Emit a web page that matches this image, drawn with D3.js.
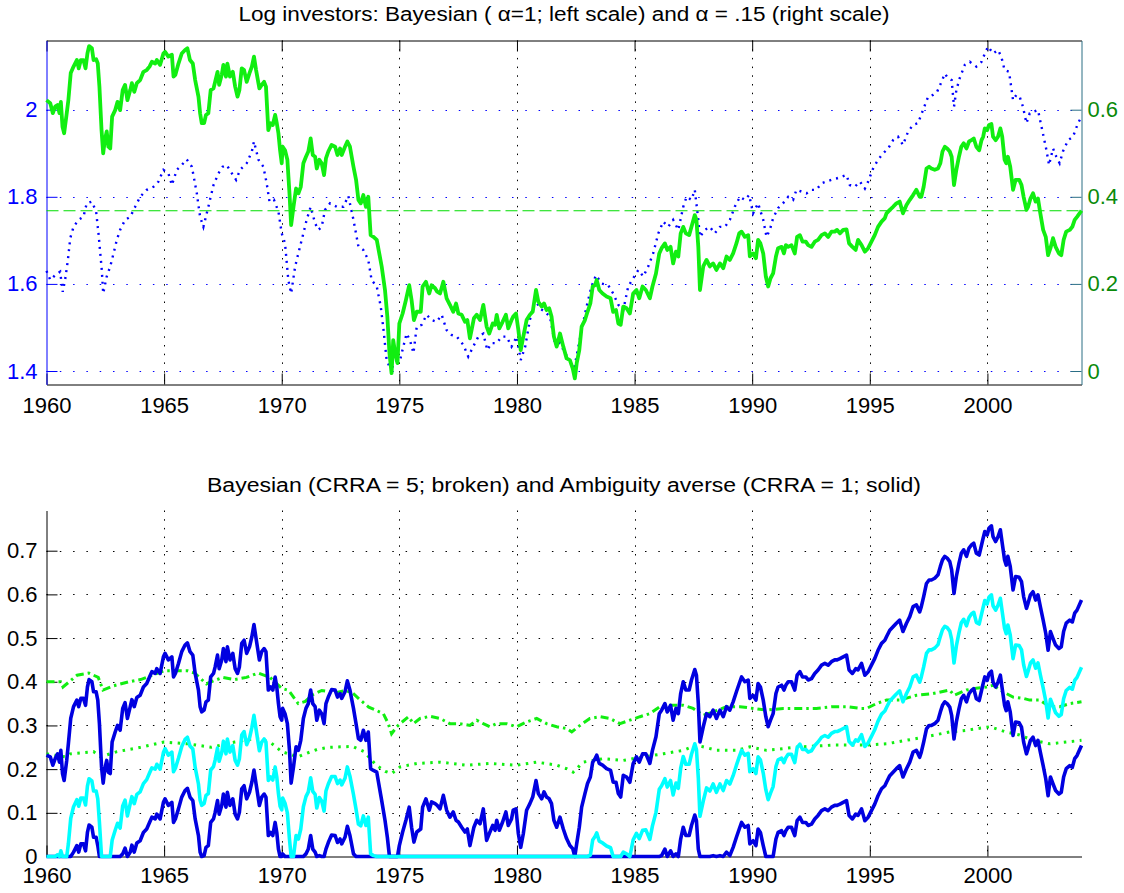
<!DOCTYPE html>
<html>
<head>
<meta charset="utf-8">
<script src="https://d3js.org/d3.v7.min.js"></script>
<style>
body { margin: 0; background: #fff; }
text { font-family: "Liberation Sans", Arial, Helvetica, sans-serif; }
</style>
</head>
<body>
<div id="chart-area"></div>
<script>

// ---- tick values
var yearTicks = [1960, 1965, 1970, 1975, 1980, 1985, 1990, 1995, 2000];
var leftTicks = [1.4, 1.6, 1.8, 2];
var rightTicks = [0, 0.2, 0.4, 0.6];
var shareTicks = [0, 0.1, 0.2, 0.3, 0.4, 0.5, 0.6, 0.7];

// ---- sample dates shared by the four solid series
var solidYears = [
 1960.00,1960.16,1960.27,1960.37,1960.47,1960.55,1960.61,1960.68,1960.75,1960.86,
 1960.93,1961.03,1961.15,1961.29,1961.37,1961.46,1961.57,1961.66,1961.74,1961.81,
 1961.93,1962.00,1962.11,1962.18,1962.25,1962.34,1962.41,1962.48,1962.56,1962.63,
 1962.71,1962.79,1962.92,1963.02,1963.13,1963.24,1963.34,1963.44,1963.56,1963.63,
 1963.73,1963.84,1963.98,1964.12,1964.26,1964.38,1964.48,1964.62,1964.69,1964.83,
 1964.97,1965.04,1965.18,1965.33,1965.40,1965.48,1965.61,1965.75,1965.89,1965.99,
 1966.10,1966.22,1966.32,1966.46,1966.53,1966.60,1966.70,1966.78,1966.88,1966.98,
 1967.10,1967.17,1967.27,1967.34,1967.45,1967.52,1967.63,1967.69,1967.80,1967.92,
 1968.02,1968.12,1968.20,1968.30,1968.40,1968.51,1968.63,1968.73,1968.82,1968.91,
 1969.05,1969.15,1969.25,1969.33,1969.43,1969.53,1969.62,1969.72,1969.79,1969.86,
 1969.93,1970.00,1970.04,1970.14,1970.24,1970.33,1970.40,1970.50,1970.61,1970.71,
 1970.81,1970.92,1971.03,1971.13,1971.23,1971.32,1971.42,1971.49,1971.60,1971.70,
 1971.80,1971.88,1971.98,1972.12,1972.27,1972.37,1972.48,1972.55,1972.69,1972.79,
 1972.90,1973.05,1973.16,1973.26,1973.36,1973.47,1973.58,1973.68,1973.78,1973.90,
 1974.04,
 1974.25,1974.39,1974.49,1974.58,1974.67,1974.74,1974.82,1974.92,1975.00,1975.14,
 1975.28,1975.42,1975.52,1975.62,1975.74,1975.91,1975.99,1976.13,1976.27,1976.37,
 1976.52,1976.61,1976.73,1976.87,1977.01,1977.15,1977.29,1977.41,1977.51,1977.65,
 1977.79,1977.89,1978.00,1978.17,1978.29,1978.43,1978.57,1978.71,1978.82,1978.97,
 1979.07,1979.14,1979.25,1979.39,1979.53,1979.63,1979.77,1979.84,1979.96,1980.06,
 1980.16,1980.27,1980.41,1980.55,1980.67,1980.81,1980.91,1981.05,1981.15,1981.26,
 1981.37,1981.47,1981.57,1981.69,1981.83,1981.97,1982.11,1982.25,1982.37,1982.46,
 1982.54,1982.65,1982.75,1982.89,1983.00,1983.12,1983.22,1983.32,1983.39,1983.50,
 1983.64,1983.81,1983.98,1984.09,1984.21,1984.31,1984.41,1984.52,1984.66,1984.80,
 1984.94,1985.08,1985.20,1985.34,1985.48,1985.65,1985.76,1985.91,1986.05,1986.15,
 1986.29,1986.39,1986.53,1986.64,1986.76,1986.86,1986.96,1987.07,1987.18,1987.32,
 1987.42,1987.56,1987.63,1987.71,
 1987.78,1987.92,1988.06,1988.20,1988.34,1988.48,1988.63,1988.77,1988.91,1989.05,
 1989.19,1989.33,1989.45,1989.55,1989.69,1989.83,1989.90,1990.04,1990.16,1990.25,
 1990.35,1990.47,1990.58,1990.68,1990.78,1990.89,1991.01,1991.10,1991.25,1991.35,
 1991.43,1991.53,1991.67,1991.81,1991.91,1992.03,1992.14,1992.28,1992.38,1992.52,
 1992.66,1992.80,1992.95,1993.09,1993.23,1993.37,1993.51,1993.61,1993.73,1993.87,
 1994.01,1994.12,1994.26,1994.40,1994.50,1994.65,1994.79,1994.93,1995.07,1995.21,
 1995.35,1995.50,1995.64,1995.71,1995.85,1995.99,1996.13,1996.27,1996.41,1996.56,
 1996.70,1996.84,1996.98,1997.12,1997.19,1997.29,1997.41,1997.52,1997.62,1997.76,
 1997.90,1998.00,1998.09,1998.19,1998.29,1998.40,1998.48,1998.58,1998.68,1998.79,
 1998.89,1998.99,1999.11,1999.22,1999.32,1999.42,1999.53,1999.65,1999.75,1999.82,
 1999.89,1999.99,2000.07,2000.17,2000.24,2000.35,2000.45,2000.55,2000.63,2000.73,
 2000.80,2000.87,2000.97,2001.09,2001.20,2001.35,2001.45,2001.54,2001.66,2001.73,
 2001.83,2001.94,2002.05,2002.15,2002.25,2002.37,2002.48,2002.58,2002.68,2002.79,
 2002.90,2003.04,2003.14,2003.24,2003.35,2003.50,2003.61,2003.71,2003.81,2004.00
];

// top panel, alpha = .15 (right scale)
var logAlpha15 = [
 0.622,0.615,0.592,0.607,0.611,0.592,0.618,0.561,0.546,0.592,
 0.622,0.684,0.699,0.714,0.695,0.714,0.714,0.695,0.729,0.746,
 0.741,0.714,0.716,0.706,0.653,0.553,0.500,0.530,0.550,0.515,
 0.511,0.584,0.599,0.618,0.599,0.645,0.657,0.622,0.645,0.661,
 0.641,0.661,0.668,0.687,0.691,0.699,0.710,0.706,0.714,0.703,
 0.729,0.733,0.722,0.726,0.676,0.680,0.706,0.729,0.737,0.741,
 0.714,0.706,0.668,0.630,0.592,0.569,0.569,0.588,0.592,0.645,
 0.649,0.664,0.687,0.657,0.680,0.703,0.676,0.706,0.676,0.687,
 0.653,0.630,0.645,0.695,0.691,0.664,0.684,0.699,0.722,0.691,
 0.649,0.657,0.664,0.653,0.553,0.569,0.565,0.588,0.569,0.546,
 0.507,0.477,0.515,0.507,0.485,0.408,0.335,0.377,0.419,0.408,
 0.423,0.477,0.492,0.504,0.534,0.496,0.492,0.465,0.485,0.477,
 0.450,0.488,0.504,0.519,0.515,0.496,0.511,0.496,0.515,0.527,
 0.515,0.469,0.439,0.393,0.385,0.404,0.377,0.400,0.312,0.308,
 0.301,
 0.240,0.186,0.125,0.041,-0.005,0.071,0.041,0.018,0.109,0.132,
 0.163,0.197,0.163,0.117,0.136,0.136,0.194,0.205,0.178,0.197,
 0.190,0.182,0.178,0.205,0.167,0.152,0.136,0.155,0.132,0.129,
 0.113,0.117,0.075,0.121,0.129,0.117,0.152,0.102,0.086,0.109,
 0.106,0.129,0.098,0.113,0.129,0.098,0.117,0.125,0.132,0.094,
 0.048,0.079,0.117,0.129,0.136,0.186,0.159,0.148,0.155,0.140,
 0.144,0.125,0.079,0.056,0.086,0.056,0.029,0.025,0.006,-0.017,
 0.018,0.048,0.102,0.117,0.136,0.155,0.194,0.197,0.209,0.186,
 0.178,0.171,0.167,0.136,0.140,0.109,0.106,0.148,0.144,0.132,
 0.178,0.186,0.167,0.194,0.186,0.167,0.194,0.224,0.270,0.282,
 0.293,0.278,0.285,0.247,0.274,0.263,0.316,0.331,0.316,0.312,
 0.331,0.358,0.347,0.285,
 0.186,0.240,0.255,0.240,0.247,0.232,0.247,0.236,0.263,0.255,
 0.270,0.293,0.316,0.320,0.308,0.312,0.263,0.270,0.259,0.301,
 0.293,0.270,0.217,0.194,0.213,0.224,0.263,0.282,0.285,0.270,
 0.289,0.285,0.289,0.270,0.308,0.312,0.297,0.297,0.289,0.285,
 0.297,0.301,0.312,0.316,0.308,0.320,0.320,0.324,0.316,0.324,
 0.325,0.293,0.285,0.278,0.301,0.289,0.274,0.282,0.297,0.312,
 0.331,0.343,0.351,0.362,0.370,0.377,0.385,0.389,0.362,0.381,
 0.393,0.404,0.416,0.400,0.400,0.423,0.465,0.469,0.465,0.462,
 0.465,0.477,0.504,0.515,0.511,0.504,0.492,0.427,0.462,0.492,
 0.515,0.523,0.511,0.527,0.530,0.534,0.515,0.507,0.530,0.538,
 0.557,0.553,0.565,0.567,0.538,0.530,0.538,0.557,0.538,0.485,
 0.477,0.492,0.469,0.416,0.439,0.439,0.427,0.400,0.370,0.377,
 0.396,0.408,0.389,0.396,0.362,0.324,0.308,0.266,0.282,0.305,
 0.285,0.270,0.266,0.301,0.320,0.324,0.331,0.347,0.354,0.368
];

// bottom panel, ambiguity averse (CRRA = 1), three solid lines
var ambHigh = [
 0.232,0.228,0.209,0.224,0.235,0.216,0.243,0.190,0.174,0.220,
 0.258,0.316,0.343,0.358,0.343,0.362,0.362,0.346,0.388,0.405,
 0.400,0.377,0.377,0.358,0.304,0.205,0.168,0.201,0.220,0.193,
 0.190,0.262,0.285,0.300,0.289,0.339,0.352,0.316,0.343,0.359,
 0.343,0.364,0.369,0.388,0.396,0.411,0.423,0.419,0.430,0.419,
 0.457,0.465,0.450,0.457,0.411,0.419,0.442,0.469,0.484,0.489,
 0.469,0.461,0.419,0.381,0.343,0.331,0.335,0.354,0.358,0.411,
 0.419,0.434,0.461,0.430,0.450,0.476,0.446,0.480,0.450,0.465,
 0.430,0.419,0.434,0.488,0.495,0.465,0.480,0.503,0.531,0.499,
 0.450,0.469,0.476,0.469,0.381,0.388,0.381,0.411,0.388,0.350,
 0.320,0.312,0.339,0.327,0.304,0.243,0.168,0.205,0.251,0.243,
 0.266,0.316,0.339,0.350,0.381,0.350,0.343,0.312,0.335,0.327,
 0.304,0.350,0.365,0.382,0.381,0.365,0.373,0.362,0.377,0.402,
 0.381,0.339,0.304,0.270,0.266,0.289,0.266,0.285,0.201,0.197,
 0.193,
 0.128,0.083,0.044,0,0,0,0,0,0.025,0.056,
 0.083,0.113,0.067,0.033,0.056,0.063,0.113,0.132,0.106,0.125,
 0.121,0.117,0.109,0.140,0.106,0.090,0.102,0.083,0.079,0.067,
 0.056,0.063,0.025,0.067,0.083,0.075,0.109,0.037,0.052,0.071,
 0.060,0.083,0.060,0.079,0.102,0.071,0.086,0.106,0.109,0.052,
 0.021,0.052,0.106,0.121,0.136,0.174,0.144,0.132,0.148,0.136,
 0.132,0.121,0.083,0.067,0.090,0.063,0.041,0.025,0.018,0,
 0.029,0.067,0.113,0.144,0.167,0.182,0.216,0.224,0.232,0.213,
 0.209,0.201,0.197,0.170,0.170,0.144,0.136,0.186,0.182,0.170,
 0.213,0.228,0.216,0.235,0.235,0.213,0.243,0.274,0.327,0.335,
 0.350,0.331,0.346,0.312,0.339,0.327,0.373,0.400,0.381,0.381,
 0.404,0.428,0.415,0.350,
 0.262,0.297,0.327,0.320,0.335,0.316,0.335,0.320,0.343,0.335,
 0.354,0.377,0.396,0.411,0.400,0.404,0.362,0.369,0.358,0.396,
 0.388,0.358,0.320,0.297,0.312,0.327,0.373,0.388,0.392,0.381,
 0.392,0.400,0.400,0.381,0.415,0.423,0.411,0.411,0.404,0.407,
 0.419,0.427,0.438,0.442,0.438,0.446,0.450,0.450,0.453,0.457,
 0.461,0.427,0.419,0.430,0.427,0.442,0.415,0.423,0.438,0.453,
 0.472,0.488,0.495,0.503,0.518,0.526,0.534,0.541,0.515,0.534,
 0.549,0.572,0.576,0.560,0.572,0.595,0.625,0.633,0.633,0.637,
 0.645,0.664,0.679,0.687,0.683,0.675,0.656,0.602,0.641,0.671,
 0.694,0.702,0.687,0.706,0.713,0.717,0.694,0.690,0.713,0.729,
 0.744,0.736,0.752,0.757,0.732,0.721,0.732,0.748,0.717,0.679,
 0.667,0.687,0.664,0.610,0.641,0.639,0.629,0.595,0.568,0.580,
 0.599,0.606,0.587,0.599,0.572,0.541,0.511,0.472,0.515,0.499,
 0.484,0.476,0.480,0.515,0.534,0.541,0.537,0.557,0.564,0.587
];

var ambMid = [
 0,0,0,0,0.004,0,0.013,0,0,0,
 0.029,0.087,0.114,0.130,0.115,0.134,0.134,0.118,0.161,0.178,
 0.173,0.150,0.150,0.132,0.078,0,0,0,0,0,
 0,0.037,0.060,0.076,0.065,0.116,0.129,0.093,0.121,0.137,
 0.121,0.142,0.148,0.167,0.176,0.191,0.203,0.200,0.211,0.200,
 0.238,0.247,0.232,0.239,0.194,0.202,0.225,0.252,0.268,0.273,
 0.253,0.246,0.204,0.166,0.129,0.117,0.121,0.140,0.144,0.198,
 0.206,0.221,0.248,0.218,0.238,0.264,0.235,0.269,0.239,0.254,
 0.220,0.209,0.224,0.278,0.286,0.256,0.271,0.295,0.323,0.291,
 0.242,0.262,0.269,0.262,0.174,0.182,0.175,0.205,0.182,0.144,
 0.115,0.107,0.134,0.122,0.100,0.039,0,0,0.048,0.040,
 0.063,0.114,0.137,0.148,0.180,0.149,0.142,0.111,0.135,0.127,
 0.104,0.150,0.166,0.183,0.183,0.167,0.175,0.164,0.179,0.205,
 0.184,0.142,0.108,0.074,0.070,0.093,0.071,0.090,0.006,0.002,
 0,
 0,0,0,0,0,0,0,0,0,0,
 0,0,0,0,0,0,0,0,0,0,
 0,0,0,0,0,0,0,0,0,0,
 0,0,0,0,0,0,0,0,0,0,
 0,0,0,0,0,0,0,0,0,0,
 0,0,0,0,0,0,0,0,0,0,
 0,0,0,0,0,0,0,0,0,0,
 0,0,0,0,0,0.003,0.038,0.046,0.054,0.035,
 0.031,0.024,0.020,0,0,0,0,0.010,0.006,0,
 0.038,0.053,0.041,0.060,0.061,0.039,0.070,0.101,0.154,0.162,
 0.178,0.159,0.174,0.141,0.168,0.156,0.202,0.229,0.211,0.211,
 0.234,0.258,0.245,0.180,
 0.092,0.127,0.157,0.150,0.166,0.147,0.166,0.151,0.174,0.166,
 0.185,0.209,0.228,0.243,0.232,0.236,0.194,0.201,0.190,0.228,
 0.221,0.191,0.153,0.130,0.145,0.160,0.206,0.221,0.225,0.215,
 0.226,0.234,0.234,0.215,0.249,0.257,0.245,0.245,0.239,0.242,
 0.254,0.262,0.273,0.277,0.273,0.282,0.286,0.286,0.289,0.293,
 0.297,0.263,0.255,0.267,0.264,0.279,0.252,0.260,0.275,0.290,
 0.310,0.326,0.333,0.341,0.356,0.364,0.372,0.379,0.354,0.373,
 0.388,0.411,0.415,0.399,0.411,0.434,0.465,0.473,0.473,0.477,
 0.485,0.504,0.519,0.527,0.524,0.516,0.497,0.443,0.482,0.512,
 0.535,0.543,0.528,0.547,0.555,0.559,0.536,0.532,0.555,0.571,
 0.586,0.578,0.594,0.599,0.574,0.564,0.575,0.591,0.560,0.522,
 0.510,0.530,0.507,0.453,0.484,0.483,0.473,0.439,0.412,0.424,
 0.443,0.450,0.431,0.443,0.416,0.386,0.356,0.317,0.360,0.344,
 0.329,0.321,0.325,0.361,0.380,0.387,0.383,0.403,0.410,0.433
];

var ambLow = [
 0,0,0,0,0,0,0,0,0,0,
 0,0,0.010,0.025,0.010,0.029,0.029,0.013,0.055,0.072,
 0.067,0.044,0.044,0.025,0,0,0,0,0,0,
 0,0,0,0,0,0.006,0.019,0,0.010,0.026,
 0.010,0.031,0.036,0.055,0.063,0.078,0.090,0.086,0.097,0.086,
 0.124,0.132,0.117,0.124,0.078,0.086,0.109,0.136,0.151,0.156,
 0.136,0.128,0.086,0.048,0.010,0,0.002,0.021,0.025,0.078,
 0.086,0.101,0.128,0.097,0.117,0.143,0.113,0.147,0.117,0.132,
 0.097,0.086,0.101,0.155,0.162,0.132,0.147,0.170,0.198,0.166,
 0.117,0.136,0.143,0.136,0.048,0.055,0.048,0.078,0.055,0.017,
 0,0,0.006,0,0,0,0,0,0,0,
 0,0,0.006,0.017,0.048,0.017,0.010,0,0.002,0,
 0,0.017,0.032,0.049,0.048,0.032,0.040,0.029,0.044,0.069,
 0.048,0.006,0,0,0,0,0,0,0,0,
 0,
 0,0,0,0,0,0,0,0,0,0,
 0,0,0,0,0,0,0,0,0,0,
 0,0,0,0,0,0,0,0,0,0,
 0,0,0,0,0,0,0,0,0,0,
 0,0,0,0,0,0,0,0,0,0,
 0,0,0,0,0,0,0,0,0,0,
 0,0,0,0,0,0,0,0,0,0,
 0,0,0,0,0,0,0,0,0,0,
 0,0,0,0,0,0,0,0,0,0,
 0,0,0,0,0,0,0,0,0,0.002,
 0.017,0,0.013,0,0.006,0,0.040,0.067,0.048,0.048,
 0.071,0.095,0.082,0.017,
 0,0,0,0,0.002,0,0.002,0,0.010,0.002,
 0.021,0.044,0.063,0.078,0.067,0.071,0.029,0.036,0.025,0.063,
 0.055,0.025,0,0,0,0,0.040,0.055,0.059,0.048,
 0.059,0.067,0.067,0.048,0.082,0.090,0.078,0.078,0.071,0.074,
 0.086,0.094,0.105,0.109,0.105,0.113,0.117,0.117,0.120,0.124,
 0.128,0.094,0.086,0.097,0.094,0.109,0.082,0.090,0.105,0.120,
 0.139,0.155,0.162,0.170,0.185,0.193,0.201,0.208,0.182,0.201,
 0.216,0.239,0.243,0.227,0.239,0.262,0.292,0.300,0.300,0.304,
 0.312,0.331,0.346,0.354,0.350,0.342,0.323,0.269,0.308,0.338,
 0.361,0.369,0.354,0.373,0.380,0.384,0.361,0.357,0.380,0.396,
 0.411,0.403,0.419,0.424,0.399,0.388,0.399,0.415,0.384,0.346,
 0.334,0.354,0.331,0.277,0.308,0.306,0.296,0.262,0.235,0.247,
 0.266,0.273,0.254,0.266,0.239,0.208,0.178,0.139,0.182,0.166,
 0.151,0.143,0.147,0.182,0.201,0.208,0.204,0.224,0.231,0.254
];

// top panel, Bayesian alpha = 1 (left scale), dotted
var bayesYears = [
 1960.00,1960.16,1960.37,1960.58,1960.69,1960.79,1960.91,1961.01,1961.15,1961.36,
 1961.57,1961.71,1961.93,1962.11,1962.21,1962.35,1962.41,1962.56,1962.71,1962.85,
 1962.99,1963.13,1963.34,1963.56,1963.77,1963.98,1964.26,1964.55,1964.76,1964.97,
 1965.18,1965.33,1965.54,1965.75,1965.96,1966.18,1966.39,1966.53,1966.67,1966.88,
 1967.10,1967.31,1967.49,1967.66,1967.88,1968.06,1968.23,1968.51,1968.73,1968.82,
 1969.01,1969.22,1969.36,1969.48,1969.67,1969.86,1970.00,1970.14,1970.28,1970.40,
 1970.57,1970.78,1970.92,1971.06,1971.23,1971.42,1971.56,1971.70,1971.84,1972.05,
 1972.34,1972.62,1972.83,1973.05,1973.26,1973.47,1973.68,1973.82,1974.04,
 1974.21,1974.32,1974.46,1974.58,1974.67,1974.89,1975.03,1975.17,1975.31,1975.45,
 1975.60,1975.74,1975.95,1976.16,1976.37,1976.59,1976.80,1977.01,1977.22,1977.44,
 1977.72,1977.93,1978.14,1978.36,1978.57,1978.74,1978.92,1979.14,1979.35,1979.56,
 1979.77,1979.99,1980.16,1980.35,1980.55,1980.76,1980.97,1981.19,1981.40,1981.61,
 1981.83,1982.04,1982.25,1982.42,1982.61,1982.75,1982.96,1983.17,1983.36,1983.60,
 1983.88,1984.09,1984.31,1984.52,1984.73,1984.94,1985.16,1985.37,1985.58,1985.79,
 1986.01,1986.22,1986.43,1986.64,1986.86,1987.07,1987.21,1987.42,1987.56,1987.71,
 1987.78,1987.99,1988.20,1988.41,1988.63,1988.84,1989.05,1989.26,1989.48,1989.69,
 1989.87,1990.04,1990.25,1990.47,1990.61,1990.75,1990.89,1991.10,1991.31,1991.53,
 1991.74,1991.88,1992.10,1992.31,1992.52,1992.73,1992.95,1993.16,1993.37,1993.58,
 1993.80,1994.01,1994.15,1994.36,1994.58,1994.79,1994.93,1995.14,1995.35,1995.57,
 1995.78,1995.99,1996.20,1996.41,1996.63,1996.84,1997.05,1997.26,1997.48,1997.69,
 1997.86,1998.05,1998.19,1998.33,1998.48,1998.58,1998.68,1998.82,1999.04,1999.25,
 1999.53,1999.75,1999.89,2000.03,2000.24,2000.45,2000.59,2000.73,2000.92,2001.09,
 2001.23,2001.37,2001.51,2001.66,2001.80,2001.94,2002.15,2002.30,2002.51,2002.62,
 2002.79,2002.93,2003.07,2003.21,2003.43,2003.64,2003.85,2004.00
];
var bayesLog = [
 1.630,1.609,1.620,1.628,1.582,1.609,1.655,1.705,1.731,1.747,
 1.754,1.785,1.789,1.766,1.716,1.632,1.578,1.617,1.640,1.670,
 1.701,1.724,1.747,1.754,1.777,1.800,1.816,1.823,1.835,1.862,
 1.854,1.827,1.862,1.873,1.886,1.869,1.808,1.754,1.731,1.777,
 1.827,1.854,1.869,1.873,1.854,1.839,1.862,1.877,1.904,1.927,
 1.885,1.869,1.831,1.789,1.793,1.766,1.716,1.693,1.609,1.578,
 1.640,1.686,1.716,1.747,1.777,1.739,1.724,1.731,1.770,1.785,
 1.777,1.777,1.802,1.747,1.686,1.678,1.655,1.609,1.594,
 1.548,1.498,1.425,1.410,1.406,1.425,1.425,1.456,1.486,1.471,
 1.441,1.502,1.506,1.529,1.517,1.513,1.529,1.494,1.483,1.479,
 1.460,1.433,1.456,1.479,1.486,1.448,1.464,1.464,1.479,1.479,
 1.456,1.479,1.425,1.456,1.517,1.567,1.544,1.536,1.525,1.464,
 1.464,1.441,1.425,1.402,1.456,1.494,1.548,1.594,1.620,1.601,
 1.597,1.578,1.552,1.540,1.594,1.613,1.632,1.617,1.640,1.670,
 1.716,1.743,1.731,1.747,1.724,1.777,1.800,1.793,1.816,1.747,
 1.708,1.724,1.731,1.716,1.731,1.731,1.747,1.777,1.800,1.793,
 1.804,1.762,1.785,1.747,1.708,1.724,1.751,1.774,1.785,1.800,
 1.793,1.816,1.812,1.808,1.816,1.816,1.831,1.835,1.839,1.842,
 1.846,1.850,1.827,1.823,1.835,1.819,1.835,1.865,1.885,1.900,
 1.911,1.930,1.938,1.919,1.950,1.965,1.969,1.999,2.030,2.034,
 2.041,2.064,2.083,2.072,2.068,2.007,2.045,2.072,2.103,2.110,
 2.099,2.110,2.129,2.145,2.129,2.137,2.122,2.091,2.087,2.022,
 2.034,2.030,2.007,1.969,1.992,1.995,1.999,1.961,1.907,1.873,
 1.911,1.892,1.877,1.904,1.930,1.938,1.969,1.984
];

// horizontal dashed reference level, right scale
var alphaMean = 0.368;

// bottom panel, Bayesian CRRA = 5 (broken lines)
var crraYearsA = [
 1960.0,1960.6,1960.7,1961.3,1961.8,1962.2,1962.4,1962.8,1963.5,1964.0,
 1964.5,1965.0,1965.5,1966.0,1966.3,1966.8,1967.0,1967.5,1968.0,1968.5,
 1969.0,1969.5,1970.0,1970.3,1970.7,1971.0,1971.3,1971.7,1972.3,1972.7,
 1973.0,1973.3,1973.7,1974.0,1974.32,1974.53,1974.67,1974.89,1975.03,1975.39,
 1975.60,1975.88,1976.30,1976.73,1977.15,1977.58,1978.00,1978.29,1978.57,1978.85,
 1979.14,1979.56,1979.99,1980.41,1980.84,1981.26,1981.69,1982.11,1982.33,1982.68,
 1983.10,1983.53,1983.95,1984.38,1984.80,1985.23,1985.65,1986.08,1986.51,1987.07,
 1987.49,1987.92,1988.34,1988.91,1989.48,1990.04,1990.61,1991.32,1992.03,1992.73,
 1993.44,1994.01,1994.58,1994.86,1995.28,1995.71,1996.27,1996.98,1997.69,1998.40,
 1998.58,1999.11,1999.53,1999.96,2000.24,2000.66,2001.09,2001.52,2001.80,2002.22,
 2002.65,2003.07,2003.50,2004.00
];
var crraDashDot = [
 0.40,0.40,0.388,0.415,0.42,0.41,0.381,0.39,0.40,0.405,
 0.415,0.425,0.425,0.425,0.42,0.395,0.40,0.41,0.405,0.41,
 0.42,0.41,0.385,0.38,0.35,0.355,0.37,0.38,0.375,0.38,
 0.375,0.36,0.342,0.335,0.327,0.304,0.281,0.297,0.304,0.320,
 0.304,0.316,0.321,0.316,0.304,0.304,0.300,0.312,0.304,0.297,
 0.304,0.304,0.297,0.308,0.316,0.304,0.297,0.293,0.285,0.300,
 0.316,0.320,0.316,0.304,0.312,0.320,0.327,0.343,0.346,0.346,
 0.339,0.323,0.331,0.343,0.343,0.339,0.335,0.339,0.339,0.339,
 0.343,0.343,0.339,0.339,0.350,0.358,0.358,0.369,0.373,0.381,
 0.369,0.381,0.385,0.388,0.392,0.377,0.365,0.362,0.358,0.358,
 0.343,0.343,0.350,0.354
];
var crraYearsB = [
 1960.0,1960.8,1961.0,1962.0,1962.3,1963.0,1964.0,1965.0,1966.0,1967.0,
 1968.0,1968.9,1969.5,1970.0,1970.7,1971.0,1971.5,1972.0,1973.0,1973.5,
 1974.0,1974.4,1974.67,1975.03,1975.74,1976.73,1977.86,1978.85,1979.99,1980.84,
 1981.69,1982.11,1982.39,1982.82,1983.67,1984.52,1985.37,1986.22,1987.07,1987.63,
 1988.49,1989.34,1989.90,1990.61,1992.03,1993.44,1994.86,1995.71,1996.98,1998.40,
 1999.11,2000.10,2000.80,2001.37,2001.94,2002.65,2003.35,2004.00
];
var crraDotted = [
 0.235,0.228,0.235,0.24,0.228,0.24,0.25,0.262,0.258,0.25,
 0.262,0.27,0.262,0.24,0.228,0.235,0.245,0.25,0.252,0.24,
 0.21,0.195,0.190,0.205,0.213,0.216,0.209,0.213,0.209,0.216,
 0.209,0.201,0.193,0.216,0.224,0.220,0.228,0.235,0.243,0.255,
 0.243,0.243,0.251,0.243,0.251,0.255,0.255,0.258,0.270,0.285,
 0.289,0.297,0.285,0.278,0.266,0.258,0.262,0.266
];

var topTitle = "Log investors: Bayesian ( \u03b1=1; left scale) and  \u03b1 = .15 (right scale)";
var bottomTitle = "Bayesian (CRRA = 5; broken) and Ambiguity averse (CRRA = 1; solid)";

/* ---------------------------------------------------------------- */

var width = 1124, height = 893;
var left = 46.5, right = 1081.5;
var fontSize = 22;

var svg = d3.select("#chart-area")
	.append("svg")
		.attr("width", width)
		.attr("height", height);

svg.append("rect").attr("width", width).attr("height", height).attr("fill", "#fff");

var x = d3.scaleLinear().domain([1960, 2004]).range([left, right]);

// top panel scales: 1.4 / 0 sit at y=371, 2.0 / 0.6 at y=109.7
var topY0 = 40.5, topY1 = 384.5;
var yLeft = d3.scaleLinear().domain([1.4, 2.0]).range([371, 109.7]);
yLeft.domain([yLeft.invert(topY1), yLeft.invert(topY0)]).range([topY1, topY0]);
var yRight = d3.scaleLinear().domain([0, 0.6]).range([371, 109.7]);
yRight.domain([yRight.invert(topY1), yRight.invert(topY0)]).range([topY1, topY0]);

// bottom panel scale
var botY0 = 510.5, botY1 = 856.5;
var yShare = d3.scaleLinear().domain([0, 0.7]).range([botY1, 550.7]);
yShare.domain([0, yShare.invert(botY0)]).range([botY1, botY0]);

function styleAxis(g, color, textColor) {
	g.attr("font-size", fontSize).attr("font-family", "Liberation Sans, Arial, sans-serif");
	g.select(".domain").attr("stroke", color).attr("stroke-width", 1);
	g.selectAll(".tick line").attr("stroke", color).attr("stroke-width", 1);
	g.selectAll(".tick text").attr("fill", textColor);
}

/* ---- TOP PANEL ---- */
var gTop = svg.append("g");

// grid
gTop.selectAll(".vgrid")
	.data(yearTicks.slice(1))
	.enter().append("line")
		.attr("x1", function(d){ return Math.round(x(d)) + 0.5; })
		.attr("x2", function(d){ return Math.round(x(d)) + 0.5; })
		.attr("y1", topY0).attr("y2", topY1)
		.attr("stroke", "#000").attr("stroke-dasharray", "1.5,7.2");

gTop.selectAll(".hgrid")
	.data(leftTicks)
	.enter().append("line")
		.attr("x1", left).attr("x2", right)
		.attr("y1", function(d){ return Math.round(yLeft(d)) + 0.5; })
		.attr("y2", function(d){ return Math.round(yLeft(d)) + 0.5; })
		.attr("stroke", "#0000ff").attr("stroke-dasharray", "1.5,11.8");

// axes
var topX = gTop.append("g")
	.attr("transform", "translate(0," + topY1 + ")")
	.call(d3.axisBottom(x).tickValues(yearTicks).tickFormat(d3.format("d"))
		.tickSizeInner(-11).tickSizeOuter(0).tickPadding(13));
styleAxis(topX, "#000", "#000");

var topBorder = gTop.append("g")
	.attr("transform", "translate(0," + topY0 + ")")
	.call(d3.axisTop(x).tickValues(yearTicks).tickFormat("")
		.tickSizeInner(-11).tickSizeOuter(0));
styleAxis(topBorder, "#000", "#000");

var leftAxis = gTop.append("g")
	.attr("transform", "translate(" + left + ",0)")
	.call(d3.axisLeft(yLeft).tickValues(leftTicks).tickFormat(function(d){ return String(d); })
		.tickSizeInner(-11).tickSizeOuter(0).tickPadding(9));
styleAxis(leftAxis, "#0000ff", "#0000ff");

var rightAxis = gTop.append("g")
	.attr("transform", "translate(" + right + ",0)")
	.call(d3.axisRight(yRight).tickValues(rightTicks).tickFormat(function(d){ return String(d); })
		.tickSizeInner(-11).tickSizeOuter(0).tickPadding(6));
styleAxis(rightAxis, "#2a6e84", "#0a8a0a");

// series
var bayesLine = d3.line()
	.x(function(d, i){ return x(bayesYears[i]); })
	.y(function(d){ return yLeft(d); });

gTop.append("path")
	.attr("d", bayesLine(bayesLog))
	.attr("fill", "none")
	.attr("stroke", "#0000ff")
	.attr("stroke-width", 2.4)
	.attr("stroke-dasharray", "2,5");

gTop.append("line")
	.attr("x1", left).attr("x2", right)
	.attr("y1", yRight(alphaMean)).attr("y2", yRight(alphaMean))
	.attr("stroke", "#00dd00").attr("stroke-width", 1.2)
	.attr("stroke-dasharray", "12,5");

var solidRight = d3.line()
	.x(function(d, i){ return x(solidYears[i]); })
	.y(function(d){ return yRight(d); });

gTop.append("path")
	.attr("d", solidRight(logAlpha15))
	.attr("fill", "none")
	.attr("stroke", "#11ee11")
	.attr("stroke-width", 3.8)
	.attr("stroke-linejoin", "round");

gTop.append("text")
	.attr("x", (left + right) / 2)
	.attr("y", 21)
	.attr("text-anchor", "middle")
	.attr("font-size", 20)
	.attr("textLength", 651)
	.attr("lengthAdjust", "spacingAndGlyphs")
	.text(topTitle);

/* ---- BOTTOM PANEL ---- */
var gBot = svg.append("g");

gBot.selectAll(".vgrid")
	.data(yearTicks.slice(1))
	.enter().append("line")
		.attr("x1", function(d){ return Math.round(x(d)) + 0.5; })
		.attr("x2", function(d){ return Math.round(x(d)) + 0.5; })
		.attr("y1", botY0).attr("y2", botY1)
		.attr("stroke", "#000").attr("stroke-dasharray", "1.5,7.2");

gBot.selectAll(".hgrid")
	.data(shareTicks.slice(1))
	.enter().append("line")
		.attr("x1", left).attr("x2", right)
		.attr("y1", function(d){ return Math.round(yShare(d)) + 0.5; })
		.attr("y2", function(d){ return Math.round(yShare(d)) + 0.5; })
		.attr("stroke", "#000").attr("stroke-dasharray", "1.5,11.8");

var botX = gBot.append("g")
	.attr("transform", "translate(0," + botY1 + ")")
	.call(d3.axisBottom(x).tickValues(yearTicks).tickFormat(d3.format("d"))
		.tickSizeInner(-11).tickSizeOuter(0).tickPadding(11));
styleAxis(botX, "#000", "#000");

var botLeft = gBot.append("g")
	.attr("transform", "translate(" + left + ",0)")
	.call(d3.axisLeft(yShare).tickValues(shareTicks).tickFormat(function(d){ return String(d); })
		.tickSizeInner(-11).tickSizeOuter(0).tickPadding(9));
styleAxis(botLeft, "#000", "#000");

var crraLineA = d3.line()
	.x(function(d, i){ return x(crraYearsA[i]); })
	.y(function(d){ return yShare(d); });
var crraLineB = d3.line()
	.x(function(d, i){ return x(crraYearsB[i]); })
	.y(function(d){ return yShare(d); });
var solidShare = d3.line()
	.x(function(d, i){ return x(solidYears[i]); })
	.y(function(d){ return yShare(d); });

gBot.append("path")
	.attr("d", crraLineA(crraDashDot))
	.attr("fill", "none").attr("stroke", "#11ee11")
	.attr("stroke-width", 3).attr("stroke-dasharray", "8,4,2.5,4");

gBot.append("path")
	.attr("d", crraLineB(crraDotted))
	.attr("fill", "none").attr("stroke", "#11ee11")
	.attr("stroke-width", 3).attr("stroke-dasharray", "2.5,5.5");

[ambLow, ambHigh].forEach(function(s){
	gBot.append("path")
		.attr("d", solidShare(s))
		.attr("fill", "none").attr("stroke", "#0000e0")
		.attr("stroke-width", 3.6).attr("stroke-linejoin", "round");
});

gBot.append("path")
	.attr("d", solidShare(ambMid))
	.attr("fill", "none").attr("stroke", "#00ffff")
	.attr("stroke-width", 3.6).attr("stroke-linejoin", "round");

gBot.append("text")
	.attr("x", (left + right) / 2)
	.attr("y", 492)
	.attr("text-anchor", "middle")
	.attr("font-size", 20)
	.attr("textLength", 714)
	.attr("lengthAdjust", "spacingAndGlyphs")
	.text(bottomTitle);

</script>
</body>
</html>
